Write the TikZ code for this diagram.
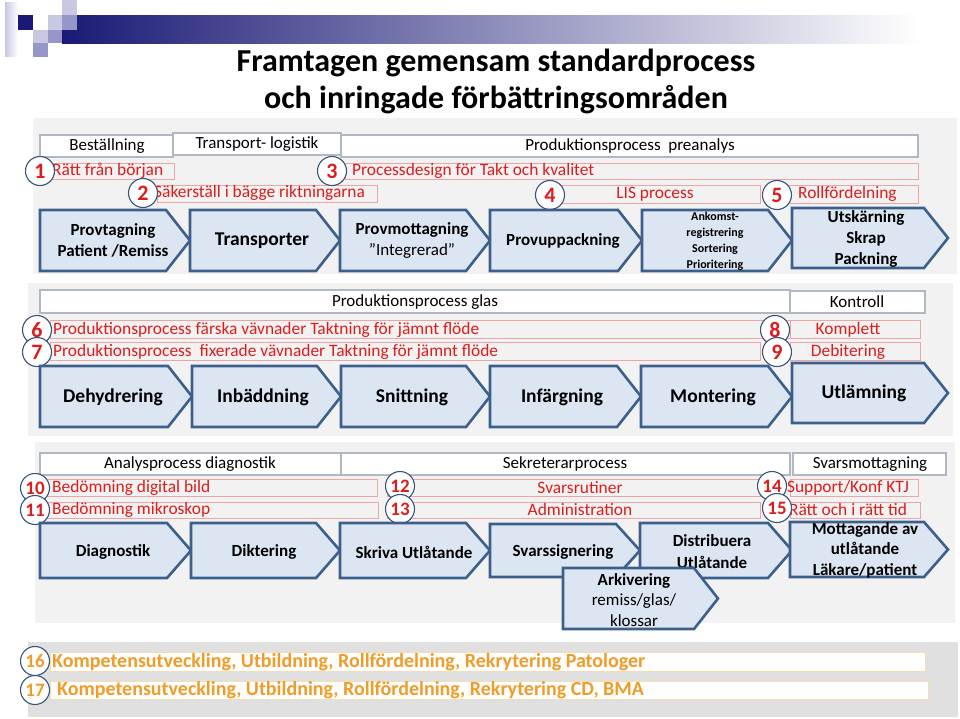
\documentclass[tikz,border=0pt]{standalone}
\usepackage{fontspec}
\setmainfont{Carlito}
\newcommand{\fsz}[2]{\fontsize{#1}{#2}\selectfont}
\definecolor{navy}{RGB}{26,26,118}
\definecolor{lav}{RGB}{200,200,226}
\definecolor{lavmid}{RGB}{150,150,200}
\definecolor{panelgray}{RGB}{242,242,242}
\definecolor{panelgrayb}{RGB}{224,224,224}
\definecolor{hdrline}{RGB}{176,184,194}
\definecolor{redtxt}{RGB}{222,28,28}
\definecolor{redline}{RGB}{235,165,165}
\definecolor{ortxt}{RGB}{240,156,40}
\definecolor{orline}{RGB}{245,221,176}
\definecolor{procfill}{RGB}{220,230,242}
\definecolor{procline}{RGB}{60,95,140}
\definecolor{circline}{RGB}{58,85,119}
\tikzset{
  panel/.style={fill=panelgray, draw=none},
  hdrbox/.style={draw=hdrline, fill=white, line width=1.2pt},
  redbox/.style={draw=redline, line width=0.9pt},
  orbox/.style={draw=orline, fill=white, line width=1pt},
  proc/.style={draw=procline, fill=procfill, line width=2.6pt, line join=miter},
  num/.style={circle, draw=circline, fill=white, line width=1.1pt, minimum size=29pt,
    inner sep=0pt, text=redtxt, font=\bfseries\fsz{22}{22}},
  numsmall/.style={num, font=\bfseries\fsz{19}{19}},
  lbl/.style={inner sep=0pt, font=\fsz{17}{20}},
  redlbl/.style={lbl, text=redtxt, font=\fsz{17.4}{20}},
  orlbl/.style={inner sep=0pt, text=ortxt, font=\bfseries\fsz{20}{22}},
  ptxt/.style={inner sep=0pt, align=center, font=\bfseries\fsz{17}{21}},
  pbig/.style={ptxt, font=\bfseries\fsz{19.5}{22}},
  title/.style={inner sep=0pt, font=\bfseries\fsz{32}{36}},
}
% process arrow: left x, top y, tip x, bottom y
\newcommand{\chevron}[4]{\draw[proc] (#1,#2) -- ({#3-24},#2) -- (#3,{(#2+#4)/2}) -- ({#3-24},#4) -- (#1,#4) -- cycle;}
\begin{document}
\begin{tikzpicture}[x=1pt,y=-1pt]
\useasboundingbox (0,0) rectangle (960,718);
% decoration top left
\shade[left color=navy, right color=white] (62,15) rectangle (920,43);
\shade[left color=lav, right color=white] (5,2) rectangle (18,56);
\fill[navy] (18,15) rectangle (33,30);
\fill[lav] (33,30) rectangle (48,43);
\fill[lavmid] (33,43) rectangle (48,57);
\fill[lav] (48,15) rectangle (62,30);
\fill[lavmid] (48,30) rectangle (62,43);
\fill[lav] (62,0) rectangle (77,15);
\fill[lavmid] (62,15) rectangle (77,30);
% title
\node[title] (t1) at (496,63) {Framtagen gemensam standardprocess};
\node[title] (t2) at (496,100) {och inringade förbättringsområden};

% panel 1 - preanalys
\fill[panel] (33,118) rectangle (957,274);
\draw[hdrbox] (40,135) rectangle (173,157);
\node[lbl] (best) at (107,146) {Beställning};
\draw[hdrbox] (341,135) rectangle (918,157);
\node[lbl] (prean) at (630,146) {Produktionsprocess~ preanalys};
\draw[hdrbox] (173,133) rectangle (341,155);
\node[lbl] (transp) at (257,144) {Transport- logistik};

\draw[redbox] (50,163) rectangle (174,179);
\node[redlbl, anchor=west] (r1) at (52,171) {Rätt från början};
\draw[redbox] (345,163) rectangle (918,179);
\node[redlbl, anchor=west] (r3) at (352,171) {Processdesign för Takt och kvalitet};
\draw[redbox] (157,185) rectangle (377,202);
\node[redlbl, anchor=west] (r2) at (154,193) {Säkerställ i bägge riktningarna};
\draw[redbox] (562,185) rectangle (760,203);
\node[redlbl] (r4) at (655,194) {LIS process};
\draw[redbox] (788,185) rectangle (918,203);
\node[redlbl, anchor=west] (r5) at (798,194) {Rollfördelning};
\node[num] (n1) at (40,171) {1};
\node[num] (n3) at (332,171) {3};
\node[num] (n2) at (143,193) {2};
\node[num] (n4) at (550,195) {4};
\node[num] (n5) at (777,195) {5};

\chevron{40}{210}{190}{271}
\node[ptxt] (provt) at (113,240) {Provtagning\\Patient /Remiss};
\chevron{190}{210}{340}{271}
\node[pbig] (transporter) at (262,241) {Transporter};
\chevron{340}{210}{490}{271}
\node[ptxt] (provm) at (412,240) {Provmottagning\\{\mdseries ”Integrerad”}};
\chevron{490}{210}{642}{271}
\node[ptxt] (provu) at (563,241) {Provuppackning};
\chevron{642}{210}{792}{271}
\node[ptxt, font=\bfseries\fsz{12}{16}] (ankomst) at (715,241) {Ankomst-\\registrering\\Sortering\\Prioritering};
\chevron{792}{208}{948}{268}
\node[ptxt] (utsk) at (866,239) {Utskärning\\Skrap\\Packning};

% panel 2 - glas
\fill[panel] (28,283) rectangle (953,436);
\draw[hdrbox] (40,290) rectangle (790,313);
\node[lbl] (glas) at (415,302) {Produktionsprocess glas};
\draw[hdrbox] (790,291) rectangle (925,313);
\node[lbl] (kontroll) at (857,302) {Kontroll};

\draw[redbox] (50,320) rectangle (790,338);
\node[redlbl, anchor=west] (r6) at (53,330) {Produktionsprocess färska vävnader Taktning för jämnt flöde};
\draw[redbox] (790,320) rectangle (920,338);
\node[redlbl] (r8) at (848,330) {Komplett};
\draw[redbox] (50,342) rectangle (760,360);
\node[redlbl, anchor=west] (r7) at (53,352) {Produktionsprocess~ fixerade vävnader Taktning för jämnt flöde};
\draw[redbox] (790,342) rectangle (920,360);
\node[redlbl] (r9) at (848,352) {Debitering};
\node[num] (n6) at (37,330) {6};
\node[num] (n7) at (37,352) {7};
\node[num] (n8) at (775,330) {8};
\node[num] (n9) at (777,352) {9};

\chevron{40}{366}{192}{427}
\node[pbig] (dehyd) at (113,397) {Dehydrering};
\chevron{192}{366}{341}{427}
\node[pbig] (inbadd) at (263,397) {Inbäddning};
\chevron{341}{366}{490}{427}
\node[pbig] (snitt) at (412,397) {Snittning};
\chevron{490}{366}{641}{427}
\node[pbig] (infarg) at (562,397) {Infärgning};
\chevron{641}{366}{792}{427}
\node[pbig] (mont) at (713,397) {Montering};
\chevron{792}{363}{948}{423}
\node[pbig] (utlamn) at (864,393) {Utlämning};

% panel 3 - diagnostik och svar
\fill[panel] (35,442) rectangle (955,623);
\draw[hdrbox] (40,453) rectangle (341,475);
\node[lbl] (analys) at (190,464) {Analysprocess diagnostik};
\draw[hdrbox] (341,453) rectangle (790,475);
\node[lbl] (sekr) at (565,464) {Sekreterarprocess};
\draw[hdrbox] (793,453) rectangle (946,475);
\node[lbl] (svarsm) at (870,464) {Svarsmottagning};

\draw[redbox] (45,479) rectangle (377,496);
\node[redlbl, anchor=west] (r10) at (52,488) {Bedömning digital bild};
\draw[redbox] (387,479) rectangle (760,496);
\node[redlbl] (r12) at (580,488) {Svarsrutiner};
\draw[redbox] (790,479) rectangle (918,496);
\node[redlbl] (r14) at (848,488) {Support/Konf KTJ};
\draw[redbox] (45,502) rectangle (378,518);
\node[redlbl, anchor=west] (r11) at (52,510) {Bedömning mikroskop};
\draw[redbox] (387,502) rectangle (760,518);
\node[redlbl] (r13) at (580,510) {Administration};
\draw[redbox] (790,502) rectangle (920,518);
\node[redlbl] (r15) at (848,510) {Rätt och i rätt tid};
\node[numsmall] (n10) at (35,488) {10};
\node[numsmall] (n11) at (35,510) {11};
\node[numsmall] (n12) at (400,486) {12};
\node[numsmall] (n13) at (400,509) {13};
\node[numsmall] (n14) at (772,486) {14};
\node[numsmall] (n15) at (777,508) {15};

\chevron{40}{523}{191}{578}
\node[ptxt] (diagn) at (113,552) {Diagnostik};
\chevron{191}{523}{340}{578}
\node[ptxt] (dikt) at (264,552) {Diktering};
\chevron{340}{523}{490}{578}
\node[ptxt] (skriva) at (414,552) {Skriva Utlåtande};
\chevron{490}{524}{640}{577}
\node[ptxt] (signer) at (563,552) {Svarssignering};
\chevron{640}{523}{792}{578}
\node[ptxt, font=\bfseries\fsz{17}{22}] (distr) at (712,552) {Distribuera\\Utlåtande};
\chevron{790}{522}{948}{577}
\node[ptxt, font=\bfseries\fsz{17}{20.5}] (mottag) at (865,550) {Mottagande av\\utlåtande\\Läkare/patient};
\chevron{563}{568}{718}{629}
\node[ptxt, font=\bfseries\fsz{17}{20.5}] (arkiv) at (634,600) {Arkivering\\{\mdseries remiss/glas/}\\{\mdseries klossar}};

% panel 4 - kompetens
\fill[panelgrayb] (28,642) rectangle (958,717);
\draw[orbox] (50,652) rectangle (925,671);
\node[orlbl, anchor=west] (k16) at (52,662) {Kompetensutveckling, Utbildning, Rollfördelning, Rekrytering Patologer};
\draw[orbox] (50,681) rectangle (928,699);
\node[orlbl, anchor=west] (k17) at (57,690) {Kompetensutveckling, Utbildning, Rollfördelning, Rekrytering CD, BMA};
\node[numsmall, text=ortxt] (n16) at (35,661) {16};
\node[numsmall, text=ortxt] (n17) at (35,690) {17};
\end{tikzpicture}
\end{document}
